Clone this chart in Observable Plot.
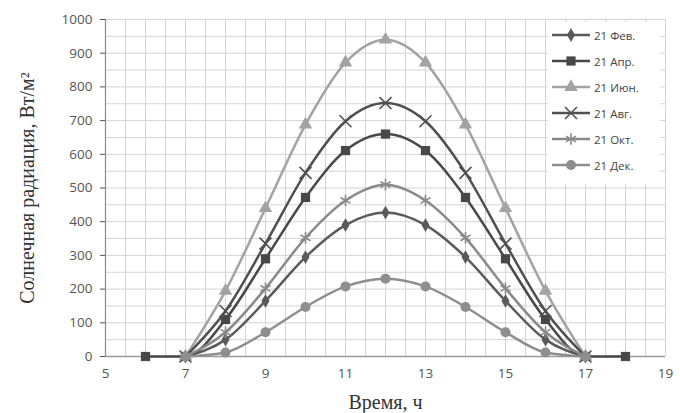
<!DOCTYPE html>
<html><head><meta charset="utf-8">
<script src="https://cdn.jsdelivr.net/npm/d3@7"></script>
<script src="https://cdn.jsdelivr.net/npm/@observablehq/plot@0.6"></script>
<style>
body{margin:0;background:#fff;}
#wrap{position:relative;width:680px;height:413px;}
#wrap svg{font-family:"Open Sans",sans-serif;}
g[aria-label="x-axis label"] text, g[aria-label="y-axis label"] text{font-family:"Liberation Serif",serif;font-size:20px;fill:#333;}
#legend{position:absolute;left:548px;top:22px;width:112px;height:162px;background:#fff;font-family:"Open Sans",sans-serif;font-size:11.5px;color:#444;}
#legend .row{height:26px;display:flex;align-items:center;}
</style></head>
<body><div id="wrap"><div id="legend"></div></div>
<script>
const seriesNames = ["21 Фев.", "21 Апр.", "21 Июн.", "21 Авг.", "21 Окт.", "21 Дек."];
const hours = [7, 8, 9, 10, 11, 12, 13, 14, 15, 16, 17];
const hoursApr = [6, 7, 8, 9, 10, 11, 12, 13, 14, 15, 16, 17, 18];
const feb = [0, 50, 165, 295, 390, 427, 390, 295, 165, 50, 0];
const apr = [0, 0, 110, 290, 472, 611, 660, 611, 472, 290, 110, 0, 0];
const jun = [0, 195, 440, 688, 872, 940, 872, 688, 440, 195, 0];
const aug = [0, 135, 335, 545, 698, 752, 698, 545, 335, 135, 0];
const oct = [0, 72, 202, 352, 463, 510, 463, 352, 202, 72, 0];
const dec = [0, 12, 72, 147, 208, 231, 208, 147, 72, 12, 0];
const xTicks = [5, 7, 9, 11, 13, 15, 17, 19];
const yTicks = [0, 100, 200, 300, 400, 500, 600, 700, 800, 900, 1000];

const styles = [
  {color:"#5a5a5a", symbol:"diamond", r:4.2, stroke:false},
  {color:"#484848", symbol:"square", r:5.2, stroke:false},
  {color:"#a3a3a3", symbol:"triangle", r:5, stroke:false},
  {color:"#505050", symbol:"times", r:5.5, stroke:true},
  {color:"#8a8a8a", symbol:"asterisk", r:5.5, stroke:true},
  {color:"#8e8e8e", symbol:"circle", r:5, stroke:false}
];
const xs = [hours, hoursApr, hours, hours, hours, hours];
const ys = [feb, apr, jun, aug, oct, dec];
const data = seriesNames.map((name, i) => xs[i].map((h, j) => ({name, h, v: ys[i][j]})));

const marks = [
  Plot.gridX(d3.range(5, 19.001, 0.5), {stroke:"#d4d4d4", strokeOpacity:1, strokeWidth:1}),
  Plot.gridY(d3.range(0, 1000.001, 50), {stroke:"#d4d4d4", strokeOpacity:1, strokeWidth:1}),
  Plot.ruleX([5], {stroke:"#8c8c8c", strokeWidth:1.2}),
  Plot.ruleY([0], {stroke:"#9a9a9a", strokeWidth:1.5}),
  Plot.axisY({ticks: yTicks, tickFormat: d3.format("d"), tickSize:5, tickPadding:8, fontSize:13.5, color:"#555", label:"Солнечная радиация, Вт/м²", labelAnchor:"center", labelArrow:"none", labelOffset:86}),
  Plot.axisX({ticks: xTicks, tickFormat: d3.format("d"), tickSize:0, tickPadding:12, fontSize:13.5, color:"#555", label:"Время, ч", labelAnchor:"center", labelArrow:"none", labelOffset:52})
];
data.forEach((d, i) => {
  const s = styles[i];
  marks.push(Plot.line(d, {x:"h", y:"v", stroke:s.color, strokeWidth:2.5, curve:"monotone-x"}));
  marks.push(Plot.dot(d, {x:"h", y:"v", symbol:() => s.symbol, r:s.r,
    fill: s.stroke ? "none" : s.color, stroke: s.stroke ? s.color : "none", strokeWidth: s.stroke ? 1.6 : 0}));
});

const chart = Plot.plot({
  width:680, height:413,
  marginLeft:105, marginRight:15, marginTop:19, marginBottom:57,
  x:{domain:[5,19]},
  y:{domain:[0,1000]},
  marks
});
document.getElementById("wrap").prepend(chart);

// legend
const leg = d3.select("#legend");
seriesNames.forEach((name, i) => {
  const s = styles[i];
  const row = leg.append("div").attr("class","row");
  const svg = row.append("svg").attr("width",44).attr("height",16);
  svg.append("line").attr("x1",4).attr("x2",42).attr("y1",8).attr("y2",8).attr("stroke",s.color).attr("stroke-width",2.5);
  const symMap = {diamond:d3.symbolDiamond, square:d3.symbolSquare, triangle:d3.symbolTriangle, times:d3.symbolTimes, asterisk:d3.symbolAsterisk, circle:d3.symbolCircle};
  svg.append("path").attr("transform","translate(23,8)")
    .attr("d", d3.symbol(symMap[s.symbol], Math.PI*s.r*s.r)())
    .attr("fill", s.stroke ? "none" : s.color).attr("stroke", s.stroke ? s.color : "none").attr("stroke-width",1.6);
  row.append("span").text(name).style("margin-left","2px");
});
</script>
</body></html>
